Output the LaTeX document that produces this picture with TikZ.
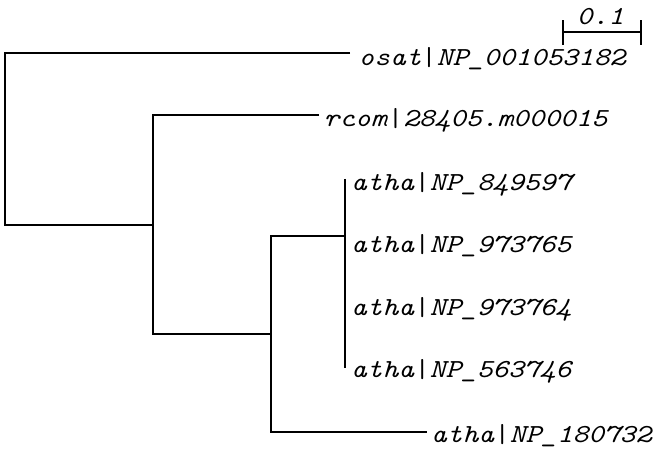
\documentclass[tikz,border=0pt]{standalone}
\usepackage{graphicx}
\newcommand\lblfont{\fontsize{26}{26}\selectfont\ttfamily\itshape}
\newcommand\lbltext[1]{\scalebox{1.15}[1]{#1}}
\newcommand\pipe{\textup{|}}
\tikzset{
  branch/.style={line width=2pt, line join=miter, black},
  lbl/.style={anchor=base west, inner sep=0pt, font=\lblfont, text=black},
}
\begin{document}
\begin{tikzpicture}[x=1pt, y=-1pt]
\useasboundingbox (0,0) rectangle (664,457);
% junction coordinates
\coordinate (oE) at (350,53.5);
\coordinate (rt) at (5,225);
\coordinate (n2) at (153,225);
\coordinate (cE) at (319,115.5);
\coordinate (n3) at (271,334);
\coordinate (n4) at (345,236);
\coordinate (bE) at (427,432);
\coordinate (p1) at (345,179);
\coordinate (p4) at (345,368);
% labels
\node[lbl] (tO) at (358.5,66) {\lbltext{osat\pipe NP\_001053182}};
\node[lbl] (tC) at (323.5,127) {\lbltext{rcom\pipe 28405.m000015}};
\node[lbl] (tA1) at (351,191) {\lbltext{atha\pipe NP\_849597}};
\node[lbl] (tA2) at (351,253) {\lbltext{atha\pipe NP\_973765}};
\node[lbl] (tA3) at (351,315) {\lbltext{atha\pipe NP\_973764}};
\node[lbl] (tA4) at (351,377) {\lbltext{atha\pipe NP\_563746}};
\node[lbl] (tB) at (431,442) {\lbltext{atha\pipe NP\_180732}};
% branches
\draw[branch] (oE) -| (rt) -- (n2);
\draw[branch] (cE) -| (n2) |- (n3);
\draw[branch] (n4) -| (n3) |- (bE);
\draw[branch] (p1) -- (p4);
% scale bar
\coordinate (sL) at (563,32);
\coordinate (sR) at (641,32);
\draw[branch] (sL) -- (sR);
\draw[branch] ([yshift=-13pt]sL) -- ([yshift=12pt]sL);
\draw[branch] ([yshift=-13pt]sR) -- ([yshift=12pt]sR);
\node[anchor=base, inner sep=0pt, font=\lblfont] (sT) at (600.5,25) {\lbltext{0.1}};
\end{tikzpicture}
\end{document}
